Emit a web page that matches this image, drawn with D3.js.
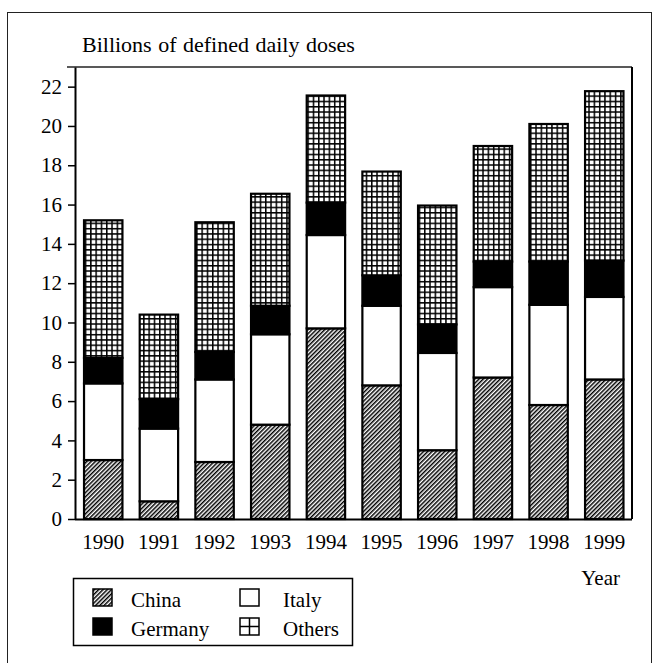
<!DOCTYPE html>
<html>
<head>
<meta charset="utf-8">
<script src="https://cdn.jsdelivr.net/npm/d3@7"></script>
<style>
  html, body { margin: 0; padding: 0; background: #fff; }
  svg { display: block; }
  text { font-family: "Liberation Serif", "Times New Roman", serif; fill: #000; }
</style>
</head>
<body>
<svg id="chart" width="654" height="663"></svg>
<script>
// ---- data ----
const years = ["1990","1991","1992","1993","1994","1995","1996","1997","1998","1999"];
const china   = [3.0, 0.9, 2.9, 4.8, 9.7, 6.8, 3.5, 7.2, 5.8, 7.1];
const italy   = [3.9, 3.7, 4.2, 4.6, 4.75, 4.05, 4.95, 4.6, 5.1, 4.2];
const germany = [1.3, 1.5, 1.4, 1.45, 1.65, 1.55, 1.45, 1.3, 2.2, 1.85];
const others  = [7.0, 4.3, 6.6, 5.7, 5.45, 5.28, 6.05, 5.88, 7.0, 8.62];
const seriesNames = ["China", "Italy", "Germany", "Others"];
const yTicks = [0,2,4,6,8,10,12,14,16,18,20,22];
const yTitle = "Billions of defined daily doses";
const xTitle = "Year";

const table = years.map((y, i) => ({
  year: y, China: china[i], Italy: italy[i], Germany: germany[i], Others: others[i]
}));

const svg = d3.select("#chart");
const defs = svg.append("defs");

// hatch pattern for China
const hatch = defs.append("pattern")
  .attr("id", "hatch").attr("patternUnits", "userSpaceOnUse")
  .attr("width", 3).attr("height", 10)
  .attr("patternTransform", "rotate(45)");
hatch.append("rect").attr("width", 3).attr("height", 10).attr("fill", "#fff");
hatch.append("rect").attr("width", 1.5).attr("height", 10).attr("fill", "#000");

// grid pattern for Others
const grid = defs.append("pattern")
  .attr("id", "grid").attr("patternUnits", "userSpaceOnUse")
  .attr("width", 5.3).attr("height", 5.3);
grid.append("rect").attr("width", 5.3).attr("height", 5.3).attr("fill", "#fff");
grid.append("rect").attr("x", 0).attr("y", 0).attr("width", 1.5).attr("height", 5.3).attr("fill", "#000");
grid.append("rect").attr("x", 0).attr("y", 0).attr("width", 5.3).attr("height", 1.5).attr("fill", "#000");

const fills = { China: "url(#hatch)", Italy: "#fff", Germany: "#000", Others: "url(#grid)" };

// outer frame
svg.append("rect").attr("x", 7.5).attr("y", 12.5).attr("width", 644).attr("height", 700)
  .attr("fill", "none").attr("stroke", "#222").attr("stroke-width", 1);

const axisX = 75, plotRight = 632, plotTop = 67, plotBottom = 519;

const y = d3.scaleLinear().domain([0, 23]).range([plotBottom, plotTop]);
const x = d3.scaleBand().domain(years).range([75.4, 632.1]).paddingInner(0.31).paddingOuter(0.155);

// top border and right border
svg.append("line").attr("x1", 67).attr("x2", plotRight).attr("y1", plotTop).attr("y2", plotTop)
  .attr("stroke", "#222").attr("stroke-width", 1.5);
svg.append("line").attr("x1", plotRight).attr("x2", plotRight).attr("y1", plotTop).attr("y2", plotBottom)
  .attr("stroke", "#000").attr("stroke-width", 2);

// bars
const stack = d3.stack().keys(seriesNames);
const stacked = stack(table);
svg.append("g").selectAll("g").data(stacked).join("g")
  .attr("fill", d => fills[d.key])
  .selectAll("rect").data(d => d).join("rect")
  .attr("x", d => x(d.data.year))
  .attr("width", x.bandwidth())
  .attr("y", d => y(d[1]))
  .attr("height", d => y(d[0]) - y(d[1]))
  .attr("stroke", "#000").attr("stroke-width", 2.2);

// y axis
const yAxis = svg.append("g").attr("transform", `translate(${axisX},0)`)
  .call(d3.axisLeft(y).tickValues(yTicks).tickSize(7).tickSizeOuter(0).tickPadding(6).tickFormat(d3.format("d")));
yAxis.select(".domain").attr("stroke", "#000").attr("stroke-width", 2);
yAxis.selectAll(".tick line").attr("stroke", "#000").attr("stroke-width", 1.5);
yAxis.selectAll(".tick text").attr("font-size", 21).attr("fill", "#000");

// x axis
const xAxis = svg.append("g").attr("transform", `translate(0,${plotBottom})`)
  .call(d3.axisBottom(x).tickSize(0).tickPadding(15));
xAxis.select(".domain").attr("d", `M${axisX},0.5H${plotRight}`).attr("stroke", "#000").attr("stroke-width", 2);
xAxis.selectAll(".tick text").attr("font-size", 21).attr("fill", "#000");

// titles
svg.append("text").attr("x", 82).attr("y", 52).attr("font-size", 22)
  .attr("word-spacing", 1).text(yTitle);
svg.append("text").attr("x", 620).attr("y", 585).attr("text-anchor", "end").attr("font-size", 21).text(xTitle);

// legend
const lg = svg.append("g");
lg.append("rect").attr("x", 73.5).attr("y", 578.5).attr("width", 279).attr("height", 67)
  .attr("fill", "#fff").attr("stroke", "#000").attr("stroke-width", 1.5);
const legendItems = [
  { name: "China",   sx: 93,  sy: 589, tx: 131, ty: 607 },
  { name: "Italy",   sx: 240, sy: 589, tx: 283, ty: 607 },
  { name: "Germany", sx: 93,  sy: 618, tx: 131, ty: 636 },
  { name: "Others",  sx: 240, sy: 618, tx: 283, ty: 636 }
];
legendItems.forEach(it => {
  const fillv = it.name === "Others" ? "#fff" : fills[it.name];
  lg.append("rect").attr("x", it.sx).attr("y", it.sy).attr("width", 19).attr("height", 17)
    .attr("fill", fillv).attr("stroke", "#000").attr("stroke-width", 1.5);
  if (it.name === "Others") {
    lg.append("line").attr("x1", it.sx + 9.5).attr("x2", it.sx + 9.5).attr("y1", it.sy).attr("y2", it.sy + 17)
      .attr("stroke", "#000").attr("stroke-width", 1.5);
    lg.append("line").attr("x1", it.sx).attr("x2", it.sx + 19).attr("y1", it.sy + 8.5).attr("y2", it.sy + 8.5)
      .attr("stroke", "#000").attr("stroke-width", 1.5);
  }
  lg.append("text").attr("x", it.tx).attr("y", it.ty).attr("font-size", 21).text(it.name);
});
</script>
</body>
</html>
